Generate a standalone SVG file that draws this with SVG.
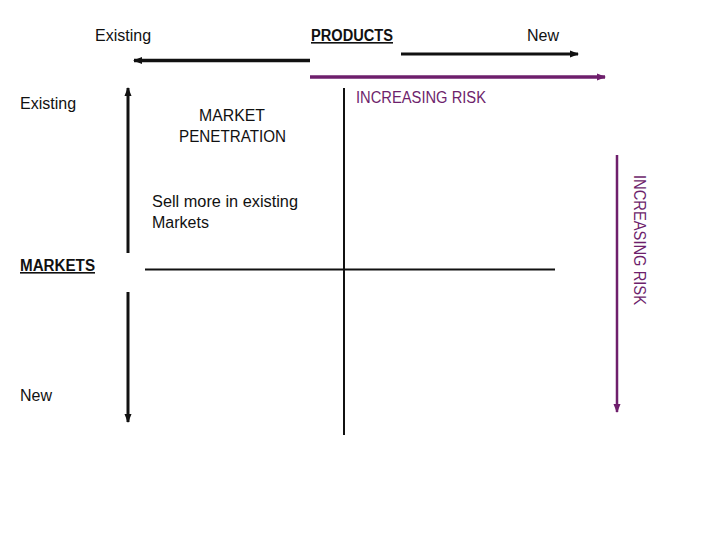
<svg xmlns="http://www.w3.org/2000/svg" width="720" height="540" viewBox="0 0 720 540">
<style>
text{font-family:"Liberation Sans",Arial,sans-serif;font-size:16px;fill:#111}
.b{font-weight:bold;text-decoration:underline}
.p{fill:#6e1f6c}
.k{stroke:#111;fill:none}
.pl{stroke:#6e1f6c;fill:none}
</style>
<defs>
<marker id="ak" markerUnits="userSpaceOnUse" markerWidth="10" markerHeight="10" refX="8" refY="5" orient="auto"><path d="M0,1.5 L9,5 L0,8.5 Z" fill="#111"/></marker>
<marker id="ap" markerUnits="userSpaceOnUse" markerWidth="10" markerHeight="10" refX="8" refY="5" orient="auto"><path d="M0,1.5 L9,5 L0,8.5 Z" fill="#6e1f6c"/></marker>
</defs>
<g id="connectors">
<line class="k" x1="310" y1="60.5" x2="134" y2="60.5" stroke-width="3.5" marker-end="url(#ak)"/>
<line class="k" x1="401" y1="54" x2="578" y2="54" stroke-width="3" marker-end="url(#ak)"/>
<line class="pl" x1="310" y1="77" x2="605" y2="77" stroke-width="3.5" marker-end="url(#ap)"/>
<line class="k" x1="128" y1="253" x2="128" y2="88" stroke-width="3" marker-end="url(#ak)"/>
<line class="k" x1="128" y1="292" x2="128" y2="422" stroke-width="3" marker-end="url(#ak)"/>
<line class="k" x1="344" y1="88" x2="344" y2="435" stroke-width="2"/>
<line class="k" x1="145" y1="269.5" x2="555" y2="269.5" stroke-width="2"/>
<line class="pl" x1="617" y1="155" x2="617" y2="412" stroke-width="2.5" marker-end="url(#ap)"/>
</g>
<g id="products-axis">
<text x="95" y="41">Existing</text>
<text class="b" x="311" y="41" textLength="82" lengthAdjust="spacingAndGlyphs">PRODUCTS</text>
<text x="527" y="41">New</text>
</g>
<g id="markets-axis">
<text x="20" y="109">Existing</text>
<text class="b" x="20" y="271" textLength="75" lengthAdjust="spacingAndGlyphs">MARKETS</text>
<text x="20" y="401">New</text>
</g>
<g id="market-penetration">
<text x="199" y="121" textLength="66" lengthAdjust="spacingAndGlyphs">MARKET</text>
<text x="179" y="142" textLength="107" lengthAdjust="spacingAndGlyphs">PENETRATION</text>
<text x="152" y="207" textLength="146" lengthAdjust="spacingAndGlyphs">Sell more in existing</text>
<text x="152" y="228">Markets</text>
</g>
<g id="risk-labels">
<text class="p" x="356" y="103" textLength="130" lengthAdjust="spacingAndGlyphs">INCREASING RISK</text>
<text class="p" transform="translate(634,175) rotate(90)" x="0" y="0" textLength="130" lengthAdjust="spacingAndGlyphs">INCREASING RISK</text>
</g>
</svg>
